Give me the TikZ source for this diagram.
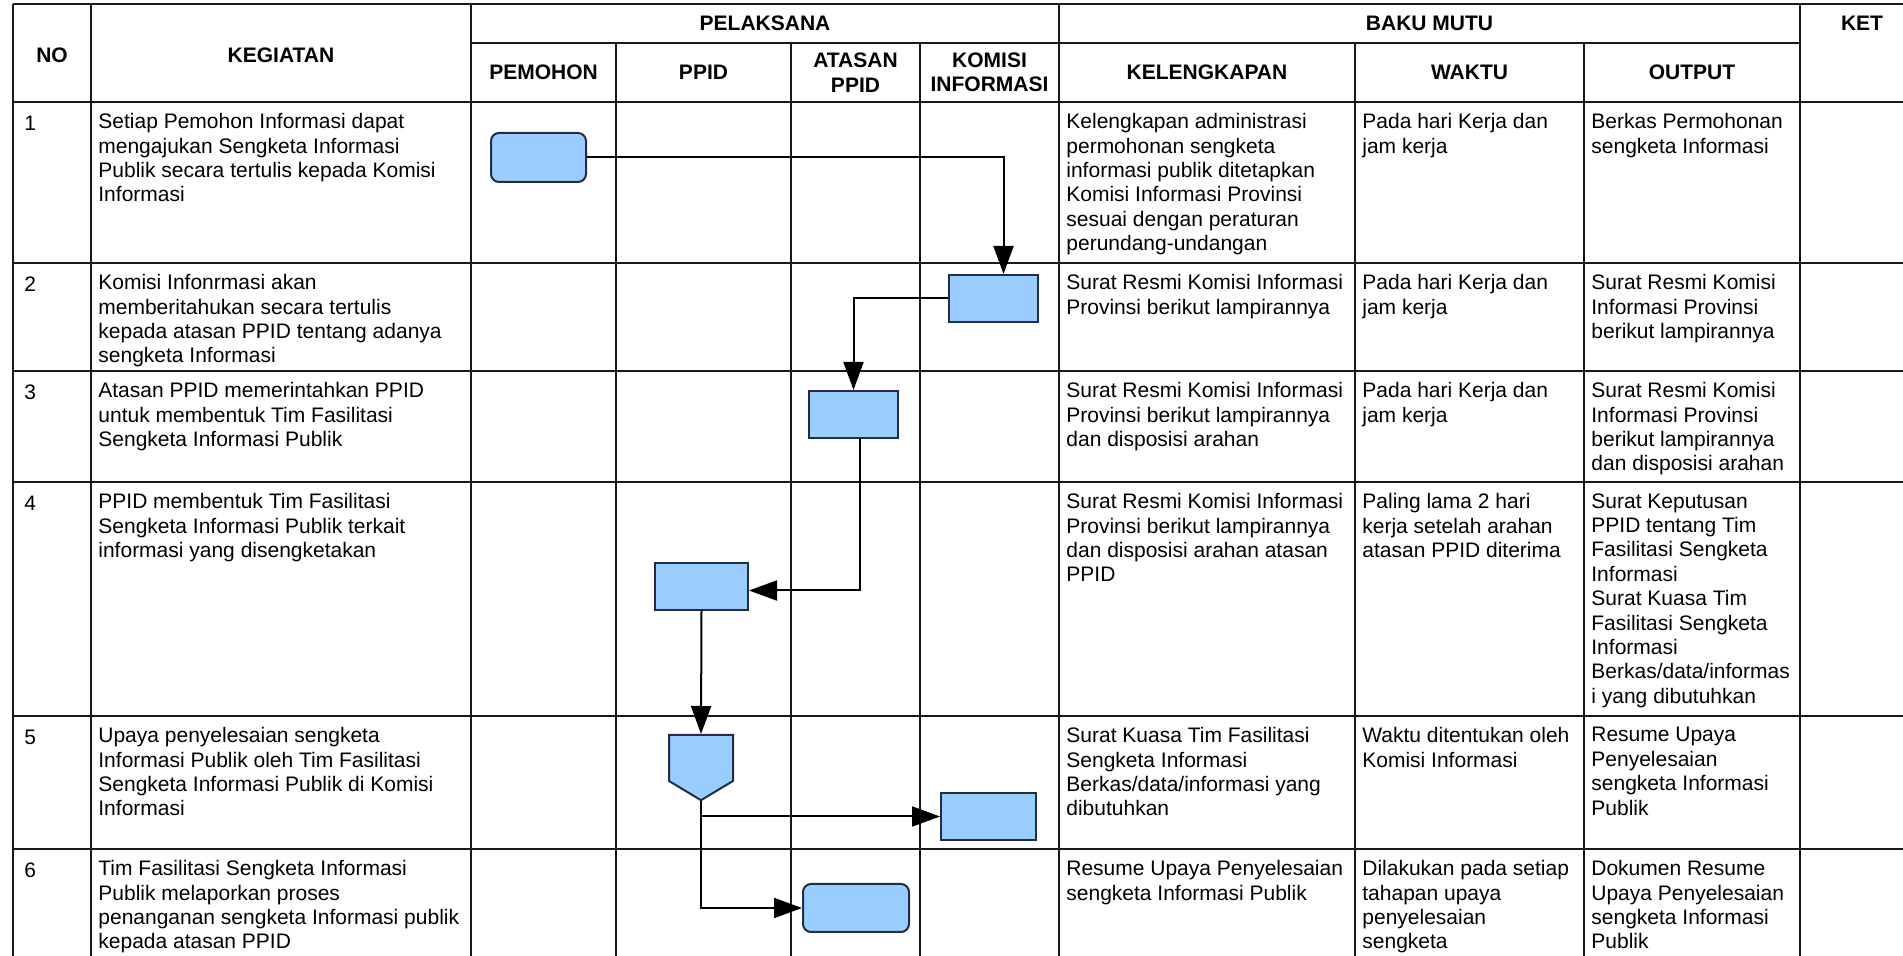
\documentclass[tikz,border=0pt]{standalone}
\usepackage{fontspec}
\setmainfont{Liberation Sans}
\usetikzlibrary{positioning,arrows.meta,shapes.symbols}

\definecolor{flowfill}{RGB}{153,204,255}
\definecolor{flowline}{RGB}{35,45,65}
\definecolor{gridline}{RGB}{25,25,25}

\begin{document}
\begin{tikzpicture}[x=0.5pt,y=-0.5pt,
    grid/.style={draw=gridline,line width=1pt},
    head/.style={font=\fontsize{10.5}{12.2}\selectfont\bfseries,align=center,inner sep=0pt},
    cell/.style={font=\fontsize{10.5}{12.2}\selectfont,align=left,anchor=north west,inner sep=0pt,execute at begin node=\strut},
    proc/.style={rectangle,draw=flowline,fill=flowfill,line width=1pt,minimum height=23.5pt},
    term/.style={proc,rounded corners=4pt},
    offpage/.style={shape=signal,signal to=south,signal pointer angle=118,draw=flowline,fill=flowfill,line width=1pt,inner sep=0pt},
    flow/.style={draw=black,line width=1pt,-{Triangle[length=14pt,width=10pt]}}]

    \useasboundingbox (0,0) rectangle (1903,956);

    % Table grid
    \draw[grid] (13,4) -- (1903,4);
    \draw[grid] (471,43) -- (1800,43);
    \draw[grid] (13,102) -- (1903,102);
    \draw[grid] (13,263) -- (1903,263);
    \draw[grid] (13,371) -- (1903,371);
    \draw[grid] (13,482) -- (1903,482);
    \draw[grid] (13,716) -- (1903,716);
    \draw[grid] (13,849) -- (1903,849);
    \draw[grid] (13,4) -- (13,956);
    \draw[grid] (91,4) -- (91,956);
    \draw[grid] (471,4) -- (471,956);
    \draw[grid] (616,43) -- (616,956);
    \draw[grid] (791,43) -- (791,956);
    \draw[grid] (920,43) -- (920,956);
    \draw[grid] (1059,4) -- (1059,956);
    \draw[grid] (1355,43) -- (1355,956);
    \draw[grid] (1584,43) -- (1584,956);
    \draw[grid] (1800,4) -- (1800,956);

    % Header
    \node[head] (hno) at (52,55) {NO};
    \node[head] (hkeg) at (281,55) {KEGIATAN};
    \node[head] (hpel) at (765,23) {PELAKSANA};
    \node[head] (hbaku) at (1429.5,23) {BAKU MUTU};
    \node[head] (hket) at (1862,23) {KET};
    \node[head] (hpem) at (543.5,72) {PEMOHON};
    \node[head] (hppid) at (703.5,72) {PPID};
    \node[head] (hatasan) at (855.5,72.5) {ATASAN\\PPID};
    \node[head] (hkomisi) at (989.5,72.5) {KOMISI\\INFORMASI};
    \node[head] (hkel) at (1207,72) {KELENGKAPAN};
    \node[head] (hwaktu) at (1469.5,72) {WAKTU};
    \node[head] (hout) at (1692,72) {OUTPUT};

    % Row 1
    \node[cell] (no1) at (24,113) {1};
    \node[cell] (keg1) at (98,113) {Setiap Pemohon Informasi dapat\\mengajukan Sengketa Informasi\\Publik secara tertulis kepada Komisi\\Informasi};
    \node[cell] (kel1) at (1066,113) {Kelengkapan administrasi\\permohonan sengketa\\informasi publik ditetapkan\\Komisi Informasi Provinsi\\sesuai dengan peraturan\\perundang-undangan};
    \node[cell] (wkt1) at (1362,113) {Pada hari Kerja dan\\jam kerja};
    \node[cell] (out1) at (1591,113) {Berkas Permohonan\\sengketa Informasi};

    % Row 2
    \node[cell] (no2) at (24,274) {2};
    \node[cell] (keg2) at (98,274) {Komisi Infonrmasi akan\\memberitahukan secara tertulis\\kepada atasan PPID tentang adanya\\sengketa Informasi};
    \node[cell] (kel2) at (1066,274) {Surat Resmi Komisi Informasi\\Provinsi berikut lampirannya};
    \node[cell] (wkt2) at (1362,274) {Pada hari Kerja dan\\jam kerja};
    \node[cell] (out2) at (1591,274) {Surat Resmi Komisi\\Informasi Provinsi\\berikut lampirannya};

    % Row 3
    \node[cell] (no3) at (24,382) {3};
    \node[cell] (keg3) at (98,382) {Atasan PPID memerintahkan PPID\\untuk membentuk Tim Fasilitasi\\Sengketa Informasi Publik};
    \node[cell] (kel3) at (1066,382) {Surat Resmi Komisi Informasi\\Provinsi berikut lampirannya\\dan disposisi arahan};
    \node[cell] (wkt3) at (1362,382) {Pada hari Kerja dan\\jam kerja};
    \node[cell] (out3) at (1591,382) {Surat Resmi Komisi\\Informasi Provinsi\\berikut lampirannya\\dan disposisi arahan};

    % Row 4
    \node[cell] (no4) at (24,493) {4};
    \node[cell] (keg4) at (98,493) {PPID membentuk Tim Fasilitasi\\Sengketa Informasi Publik terkait\\informasi yang disengketakan};
    \node[cell] (kel4) at (1066,493) {Surat Resmi Komisi Informasi\\Provinsi berikut lampirannya\\dan disposisi arahan atasan\\PPID};
    \node[cell] (wkt4) at (1362,493) {Paling lama 2 hari\\kerja setelah arahan\\atasan PPID diterima};
    \node[cell] (out4) at (1591,493) {Surat Keputusan\\PPID tentang Tim\\Fasilitasi Sengketa\\Informasi\\Surat Kuasa Tim\\Fasilitasi Sengketa\\Informasi\\Berkas/data/informas\\i yang dibutuhkan};

    % Row 5
    \node[cell] (no5) at (24,727) {5};
    \node[cell] (keg5) at (98,727) {Upaya penyelesaian sengketa\\Informasi Publik oleh Tim Fasilitasi\\Sengketa Informasi Publik di Komisi\\Informasi};
    \node[cell] (kel5) at (1066,727) {Surat Kuasa Tim Fasilitasi\\Sengketa Informasi\\Berkas/data/informasi yang\\dibutuhkan};
    \node[cell] (wkt5) at (1362,727) {Waktu ditentukan oleh\\Komisi Informasi};
    \node[cell] (out5) at (1591,727) {Resume Upaya\\Penyelesaian\\sengketa Informasi\\Publik};

    % Row 6
    \node[cell] (no6) at (24,860) {6};
    \node[cell] (keg6) at (98,860) {Tim Fasilitasi Sengketa Informasi\\Publik melaporkan proses\\penanganan sengketa Informasi publik\\kepada atasan PPID};
    \node[cell] (kel6) at (1066,860) {Resume Upaya Penyelesaian\\sengketa Informasi Publik};
    \node[cell] (wkt6) at (1362,860) {Dilakukan pada setiap\\tahapan upaya\\penyelesaian\\sengketa};
    \node[cell] (out6) at (1591,860) {Dokumen Resume\\Upaya Penyelesaian\\sengketa Informasi\\Publik};

    % Flow shapes
    \node[term,minimum width=47.5pt,minimum height=24.5pt] (pemohon1) at (538.5,157.5) {};
    \node[proc,minimum width=44.5pt] (komisi2) at (993.5,298.5) {};
    \node[proc,minimum width=44.5pt] (atasan3) at (853.5,414.5) {};
    \node[proc,minimum width=46.5pt] (ppid4) at (701.5,586.5) {};
    \node[offpage,minimum width=32pt,minimum height=23pt,anchor=north] (ppid5) at (701,734) {};
    \node[proc,minimum width=47.5pt] (komisi5) at (988.5,816.5) {};
    \node[term,minimum width=53pt,minimum height=24pt] (atasan6) at (856,908) {};

    % Arrows
    \draw[flow] (pemohon1.east) -| ([xshift=5pt]komisi2.north);
    \draw[flow] (komisi2.west) -| (atasan3.north);
    \draw[flow] ([xshift=3pt]atasan3.south) |- ([yshift=-2pt]ppid4.east);
    \draw[flow] (ppid4.south) -- (ppid5.north);
    \draw[flow] (ppid5.south) |- (komisi5.west);
    \draw[flow] (ppid5.south) |- (atasan6.west);
\end{tikzpicture}
\end{document}
